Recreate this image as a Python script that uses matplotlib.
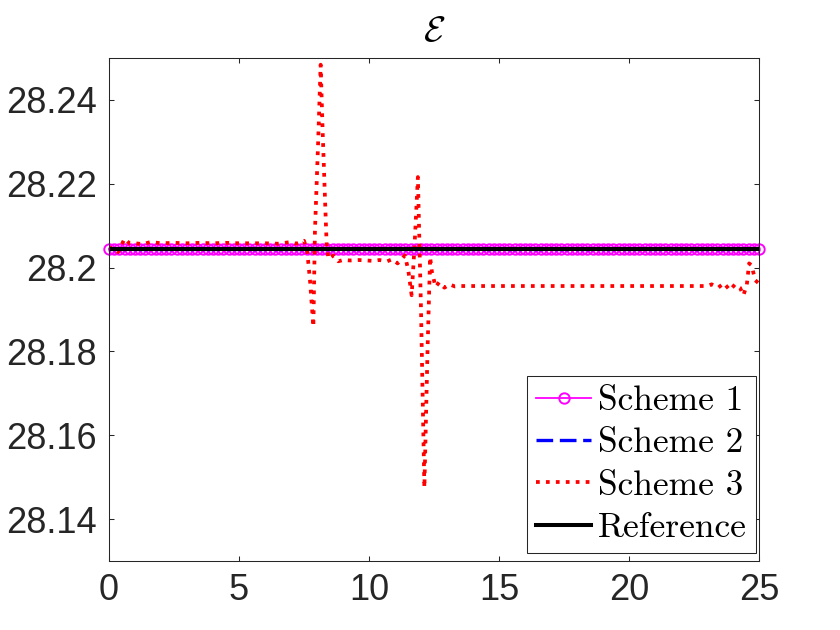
import numpy as np
import matplotlib
matplotlib.use("Agg")
import matplotlib.pyplot as plt

# ---------------- data ----------------
ref_value = 28.2045
t_grid = np.linspace(0, 25, 126)          # time samples of schemes 1 & 2
scheme1 = np.full_like(t_grid, 28.2045)
scheme2 = np.full_like(t_grid, 28.2045)

t3 = [0.0, 0.15, 0.35, 0.6, 0.8, 1.0, 1.3, 1.6, 2.0, 2.5, 3.0, 3.5, 4.0, 4.5,
      5.0, 5.5, 6.0, 6.5, 7.0, 7.2, 7.5, 7.62, 7.73, 7.86, 7.92, 8.05, 8.14,
      8.22, 8.31, 8.37, 8.44, 8.63, 8.82, 9.0, 9.27, 9.6, 9.9, 10.15, 10.4,
      10.7, 10.9, 11.1, 11.38, 11.51, 11.64, 11.75, 11.88, 12.0, 12.13, 12.25,
      12.35, 12.42, 12.56, 12.7, 12.9, 13.1, 13.3, 13.5, 14.0, 15.0, 16.0,
      17.0, 18.0, 19.0, 20.0, 21.0, 22.0, 23.0, 23.18, 23.43, 23.65, 23.88,
      24.08, 24.27, 24.4, 24.53, 24.62, 24.72, 24.85, 25.0]
scheme3 = [28.2045, 28.2048, 28.2037, 28.2069, 28.2057, 28.2058, 28.2056,
           28.2061, 28.2058, 28.2059, 28.2058, 28.2059, 28.2058, 28.2059,
           28.2058, 28.2058, 28.2058, 28.2057, 28.2061, 28.2057, 28.2064,
           28.2041, 28.1970, 28.1859, 28.2085, 28.2310, 28.2484, 28.2320,
           28.2160, 28.2057, 28.2021, 28.2029, 28.2015, 28.2018, 28.2017,
           28.2018, 28.2017, 28.2016, 28.2018, 28.2015, 28.2020, 28.2010,
           28.2029, 28.1994, 28.1934, 28.2050, 28.2216, 28.1900, 28.1475,
           28.1800, 28.2025, 28.1990, 28.1954, 28.1965, 28.1952, 28.1960,
           28.1955, 28.1956, 28.1956, 28.1956, 28.1956, 28.1956, 28.1956,
           28.1956, 28.1956, 28.1956, 28.1956, 28.1956, 28.1960, 28.1952,
           28.1963, 28.1946, 28.1960, 28.1952, 28.1934, 28.1958, 28.2010,
           28.2005, 28.1970, 28.1962]

xticks = [0, 5, 10, 15, 20, 25]
yticks = [28.14, 28.16, 28.18, 28.2, 28.22, 28.24]
ytick_labels = ["28.14", "28.16", "28.18", "28.2", "28.22", "28.24"]
labels = ["Scheme 1", "Scheme 2", "Scheme 3", "Reference"]

# ---------------- figure ----------------
plt.rcParams['mathtext.fontset'] = 'cm'
plt.rcParams['font.family'] = ['Liberation Sans', 'DejaVu Sans']

fig = plt.figure(figsize=(8.4, 6.3), dpi=100)
ax = fig.add_axes([109/840, 69/630, 650/840, 503/630])

ax.plot(t_grid, scheme1, color='#ff00ff', lw=1.3, marker='o', ms=7.5,
        mfc='none', mec='#ff00ff', mew=1.4, label=labels[0], clip_on=False)
ax.plot(t_grid, scheme2, color='#0000ff', lw=2.4, ls=(0, (5.0, 2.0)),
        label=labels[1])
ax.plot(t3, scheme3, color='#ff0000', lw=2.7, ls=':', label=labels[2])
ax.plot([0, 25], [ref_value, ref_value], color='black', lw=2.9,
        label=labels[3])

ax.set_xlim(0, 25)
ax.set_ylim(28.13, 28.25)
ax.set_xticks(xticks)
ax.set_yticks(yticks)
ax.set_yticklabels(ytick_labels)
ax.tick_params(direction='in', length=3.6, width=0.75, top=True, right=True,
               labelsize=26, colors='#262626', pad=9)
for s in ax.spines.values():
    s.set_linewidth(0.75)
    s.set_color('#262626')

ax.set_title(r'$\mathcal{E}$', fontsize=26, pad=12)

leg = ax.legend(loc='lower right', bbox_to_anchor=(0.9954, 0.0159),
                borderaxespad=0, prop={'family': 'cmr10', 'size': 25.5},
                fancybox=False, framealpha=1, edgecolor='#262626',
                borderpad=0.25, labelspacing=0.3, handlelength=1.55,
                handletextpad=0.2, numpoints=1)
leg.get_frame().set_linewidth(0.75)

fig.savefig('out.png', dpi=100)
